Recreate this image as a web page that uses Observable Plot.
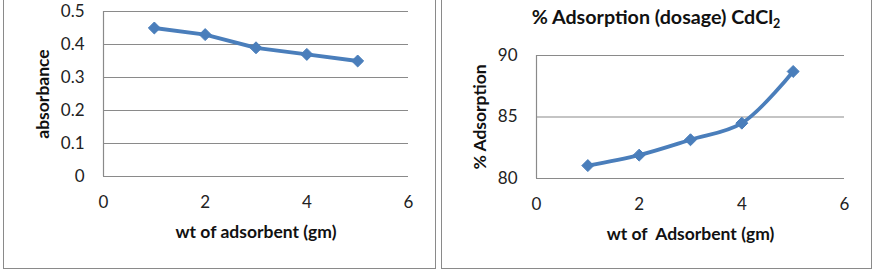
<!DOCTYPE html>
<html>
<head>
<meta charset="utf-8">
<script src="https://cdn.jsdelivr.net/npm/d3@7"></script>
<script src="https://cdn.jsdelivr.net/npm/@observablehq/plot@0.6"></script>
<style>
  html, body { margin: 0; padding: 0; background: #fff; }
  #root { position: relative; width: 879px; height: 274px; overflow: hidden; background: #fff; }
  .panel { position: absolute; top: -10px; border: 1.5px solid #8a8a8a; box-sizing: border-box; }
  .chart { position: absolute; top: 0; }
  .chart svg text { white-space: pre; }
  #title2 { position: absolute; top: 5px; left: 456px; width: 400px; text-align: center;
            font-family: Lato, sans-serif; font-weight: bold; font-size: 19.7px; color: #111; }
  #title2 sub { font-size: 12.5px; vertical-align: -4px; line-height: 0; }
</style>
</head>
<body>
<div id="root">
  <div class="panel" style="left:3px; width:433px; height:279px;"></div>
  <div class="panel" style="left:441px; width:431px; height:279px;"></div>
  <div id="left" class="chart" style="left:0px;"></div>
  <div id="right" class="chart" style="left:438px;"></div>
  <div id="title2">% Adsorption (dosage) CdCl<sub>2</sub></div>
</div>
<script>
const weights = [1, 2, 3, 4, 5];
const absorbance = [0.45, 0.43, 0.39, 0.37, 0.35];
const adsorption = [81.05, 81.9, 83.15, 84.5, 88.7];
const xTicks = [0, 2, 4, 6];
const absTicks = [0, 0.1, 0.2, 0.3, 0.4, 0.5];
const adsTicks = [80, 85, 90];
const xLabelLeft = "wt of adsorbent (gm)";
const xLabelRight = "wt of  Adsorbent (gm)";
const yLabelLeft = "absorbance";
const yLabelRight = "% Adsorption";

const blue = "#4a7ebb";
const grid = "#8a8a8a";
const font = "Lato, sans-serif";

const leftData = weights.map((w, i) => ({x: w, y: absorbance[i]}));
const rightData = weights.map((w, i) => ({x: w, y: adsorption[i]}));

function chart({data, width, mL, mR, mT, mB, yDomain, yTicks, yFmt, xLabel, yLabel, yLabelDx, curve}) {
  return Plot.plot({
    width, height: 274,
    marginLeft: mL, marginRight: mR, marginTop: mT, marginBottom: mB,
    style: {fontFamily: font, fontSize: "17px", color: "#222", background: "transparent", overflow: "visible"},
    x: {domain: [0, 6]},
    y: {domain: yDomain},
    marks: [
      Plot.gridY(yTicks, {stroke: grid, strokeOpacity: 1, strokeWidth: 1.2}),
      Plot.ruleX([0], {stroke: grid, strokeWidth: 1.2}),
      Plot.axisY(yTicks, {tickSize: 0, tickPadding: 19, tickFormat: yFmt, label: null, fill: "#222"}),
      Plot.axisX(xTicks, {tickSize: 0, tickPadding: 19, tickFormat: d => String(d), label: null, fill: "#222"}),
      Plot.line(data, {x: "x", y: "y", stroke: blue, strokeWidth: 3.8, curve}),
      Plot.dot(data, {x: "x", y: "y", symbol: "diamond2", r: 5.4, fill: blue, stroke: blue, strokeWidth: 1}),
      Plot.text([xLabel], {frameAnchor: "bottom", dy: 56, textAnchor: "middle", lineAnchor: "middle", fontWeight: "bold", fontSize: 17.5, fill: "#111"}),
      Plot.text([yLabel], {frameAnchor: "left", dx: yLabelDx, rotate: -90, textAnchor: "middle", lineAnchor: "middle", fontWeight: "bold", fontSize: 17.5, fill: "#111"})
    ]
  });
}

document.getElementById("left").append(chart({
  data: leftData, width: 438, mL: 103, mR: 30, mT: 11, mB: 98,
  yDomain: [0, 0.5], yTicks: absTicks, yFmt: d => d === 0 ? "0" : d3.format(".1f")(d),
  xLabel: xLabelLeft, yLabel: yLabelLeft, yLabelDx: -60, curve: "linear"
}));

document.getElementById("right").append(chart({
  data: rightData, width: 441, mL: 98, mR: 35, mT: 55, mB: 96,
  yDomain: [80, 90], yTicks: adsTicks, yFmt: d => String(d),
  xLabel: xLabelRight, yLabel: yLabelRight, yLabelDx: -56, curve: "catmull-rom"
}));
</script>
</body>
</html>
